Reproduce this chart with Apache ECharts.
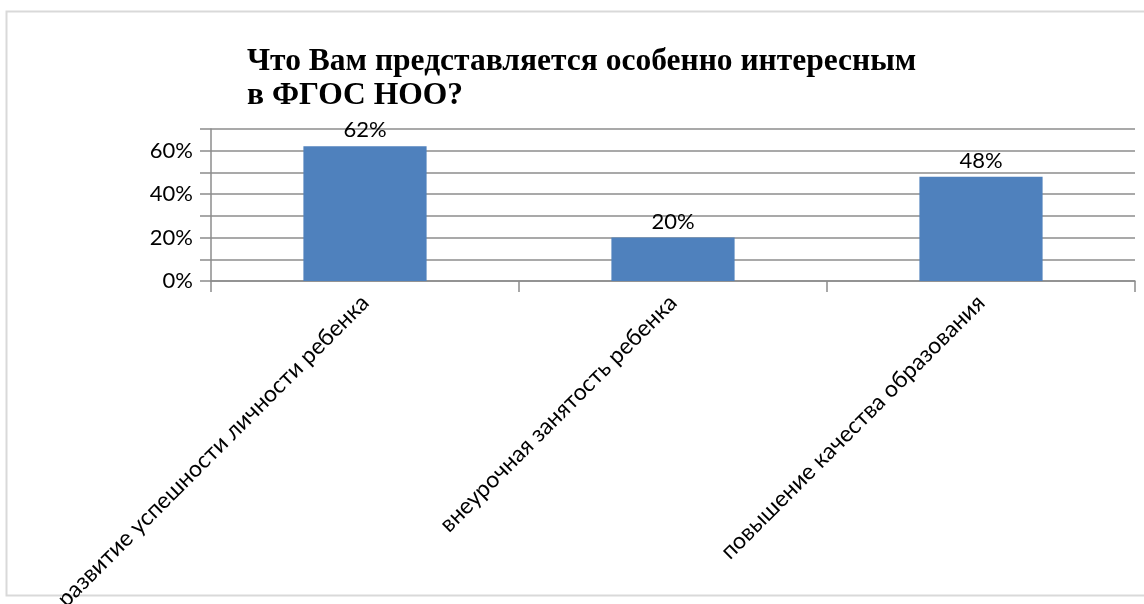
<!DOCTYPE html>
<html>
<head>
<meta charset="utf-8">
<script src="https://cdn.jsdelivr.net/npm/echarts@6/dist/echarts.min.js"></script>
<style>
html,body{margin:0;padding:0;background:#fff;}
#c{width:1144px;height:604px;}
</style>
</head>
<body>
<div id="c"></div>
<script>
const titleLines = ['Что Вам представляется особенно интересным', 'в ФГОС НОО?'];
const categories = ['развитие успешности личности ребенка', 'внеурочная занятость ребенка', 'повышение качества образования'];
const values = [62, 20, 48];
const yMin = 0, yMax = 70, yStep = 10, yLabelStep = 20;

const chart = echarts.init(document.getElementById('c'));
chart.setOption({
  animation: false,
  graphic: [{
    type: 'rect', shape: {x: 6.5, y: 11.5, width: 1150, height: 584},
    style: {fill: 'none', stroke: '#d9d9d9', lineWidth: 2}, silent: true, z: -1
  }],
  title: {
    text: titleLines.join('\n'),
    left: 242, top: 40,
    textStyle: {fontFamily: 'Liberation Serif', fontWeight: 'bold', fontSize: 31.5, color: '#000', lineHeight: 34}
  },
  grid: {left: 211, right: 9, top: 129, bottom: 323, containLabel: false, outerBoundsMode: 'none'},
  xAxis: {
    type: 'category', data: categories,
    axisLine: {lineStyle: {color: '#8c8c8c', width: 1.5}},
    axisTick: {show: true, length: 11, lineStyle: {color: '#8c8c8c', width: 1.5}},
    axisLabel: {rotate: 45, interval: 0, margin: 18, fontFamily: 'Lato', fontSize: 23, color: '#000'}
  },
  yAxis: {
    type: 'value', min: yMin, max: yMax, interval: yStep,
    axisLine: {show: true, lineStyle: {color: '#8c8c8c', width: 1.5}},
    axisTick: {show: true, length: 11, lineStyle: {color: '#8c8c8c', width: 1.5}},
    splitLine: {lineStyle: {color: '#8c8c8c', width: 1.5}},
    axisLabel: {
      margin: 18, fontFamily: 'Lato', fontSize: 22, color: '#000',
      formatter: v => (v % yLabelStep === 0 ? v + '%' : '')
    }
  },
  series: [{
    type: 'bar', data: values, barWidth: '40%',
    itemStyle: {color: '#4f81bd'},
    label: {show: true, position: 'top', distance: 5, formatter: p => p.value + '%', fontFamily: 'Lato', fontSize: 22, color: '#000'}
  }]
});
</script>
</body>
</html>
